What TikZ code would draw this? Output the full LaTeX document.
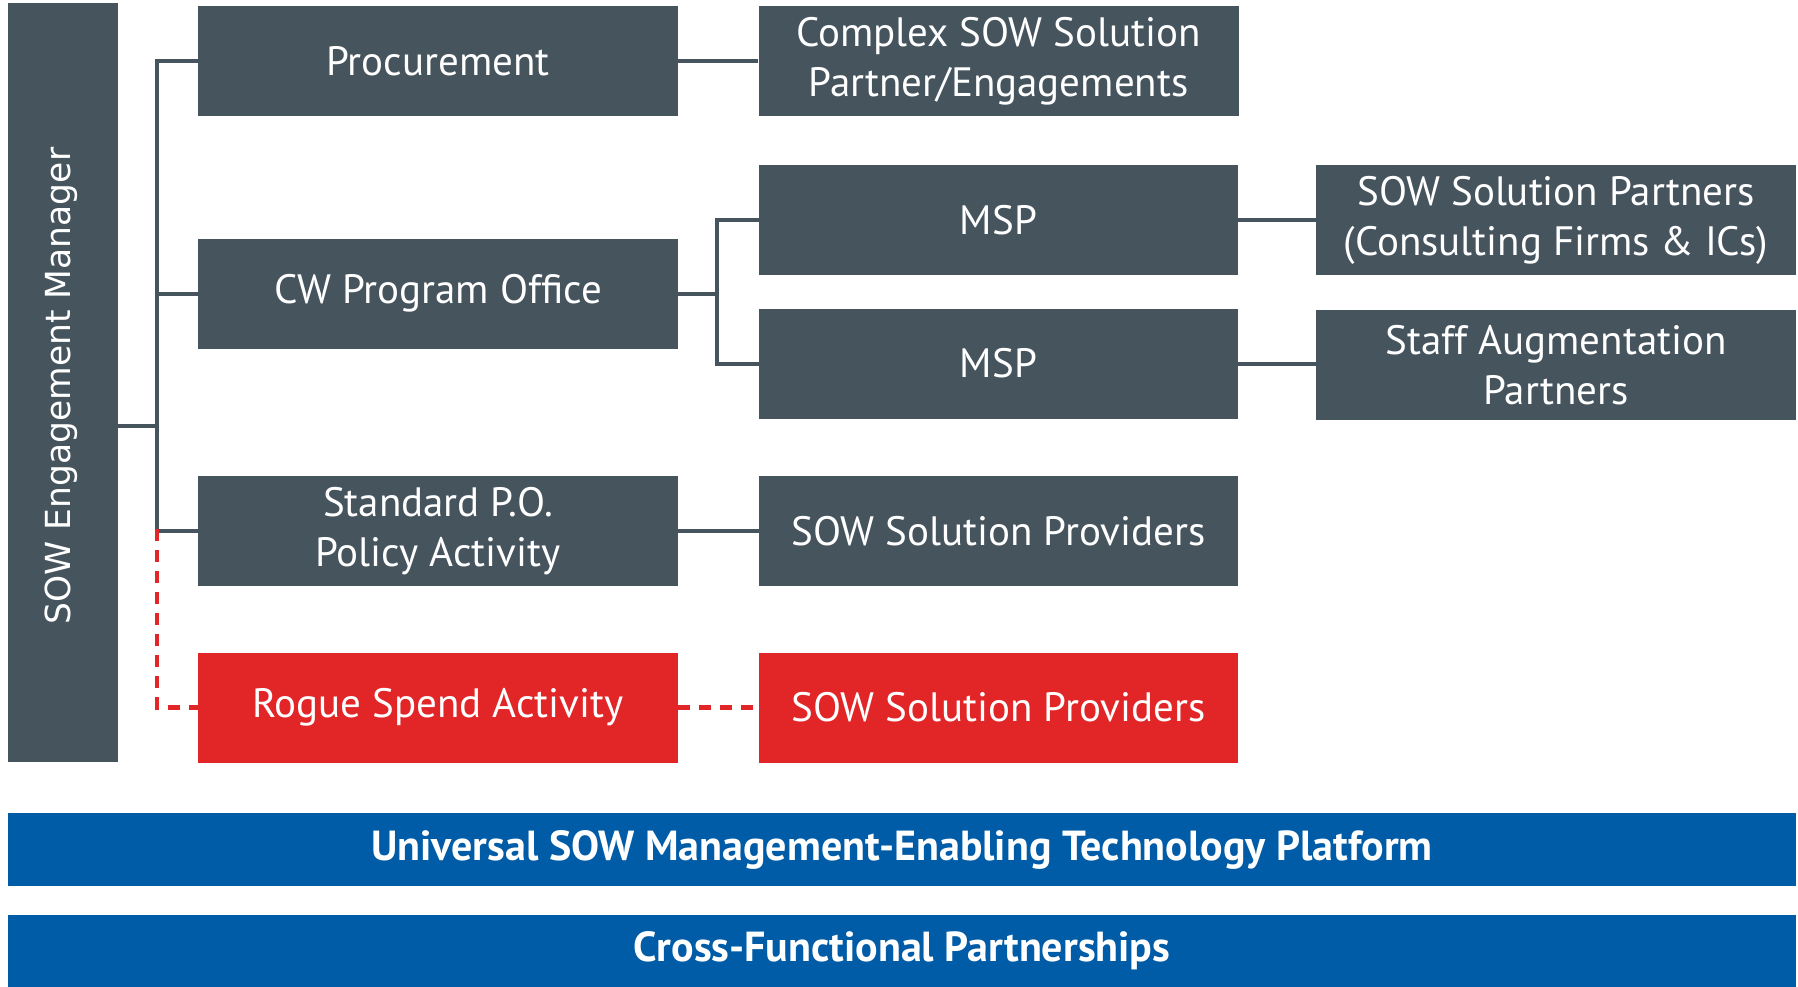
\documentclass[tikz,border=0pt]{standalone}
\usepackage{fontspec}
\setmainfont{PT Sans}
\newfontfamily\mgrfont{DejaVu Sans}
\usetikzlibrary{positioning,calc}

\definecolor{slate}{HTML}{46545E}
\definecolor{alert}{HTML}{E22526}
\definecolor{brand}{HTML}{005CA6}

\tikzset{
  box/.style={fill=slate, text=white, inner sep=0pt, align=center,
    minimum width=480pt, minimum height=110pt,
    font=\fontsize{41}{50}\selectfont},
  redbox/.style={box, fill=alert},
  bar/.style={fill=brand, text=white, inner sep=0pt, minimum width=1788pt,
    font=\fontsize{42}{50}\selectfont\bfseries},
  conn/.style={draw=slate, line width=4pt},
  dashconn/.style={draw=alert, line width=4.5pt, dash pattern=on 12pt off 9pt}
}

\begin{document}
\begin{tikzpicture}[x=1pt, y=-1pt]
\useasboundingbox (0,0) rectangle (1798,987);

% vertical manager column
\node[fill=slate, inner sep=0pt, minimum width=110pt, minimum height=759pt]
  (mgr) at (63,382.5) {};
\node[rotate=90, text=white, font=\mgrfont\fontsize{34.5}{42}\selectfont]
  (mgrlabel) at (61,386) {SOW Engagement Manager};

% first column
\node[box] (proc)  at (438,61)    {Procurement};
\node[box] (cw)    at (438,293.5) {CW Program Office};
\node[box] (stdpo) at (438,531)   {Standard P.O.\\Policy Activity};
\node[redbox] (rogue) at (438,707.5) {Rogue Spend Activity};

% second column
\node[box] (complex) at (998.5,61)    {Complex SOW Solution\\Partner/Engagements};
\node[box, minimum width=479pt] (msp1) at (998.5,220)   {MSP};
\node[box, minimum width=479pt] (msp2) at (998.5,363.5) {MSP};
\node[box, minimum width=479pt] (prov) at (998.5,531)   {SOW Solution Providers};
\node[redbox, minimum width=479pt] (rprov) at (998.5,707.5) {SOW Solution Providers};

% third column
\node[box] (partners) at (1556,220) {SOW Solution Partners\\(Consulting Firms \& ICs)};
\node[box] (staff)    at (1556,365) {Staff Augmentation\\Partners};

% foundation bars
\node[bar, minimum height=73pt] (platform) at (902,849.5)
  {Universal SOW Management-Enabling Technology Platform};
\node[bar, minimum height=72pt] (cross) at (902,951)
  {Cross-Functional Partnerships};

% junction points
\coordinate (trunk) at (157,426);
\coordinate (split) at (717,293.5);

% connectors
\draw[conn] (proc.west) -| (trunk |- stdpo.west) -- (stdpo.west);
\draw[conn] (cw.west) -- (trunk |- cw.west);
\draw[conn] (mgr.east |- trunk) -- (trunk);
\draw[conn] (proc.east) -- (complex.west);
\draw[conn] (cw.east) -- (split);
\draw[conn] (msp1.west) -| (split) |- (msp2.west);
\draw[conn] (msp1.east) -- (partners.west |- msp1.east);
\draw[conn] (msp2.east) -- (staff.west |- msp2.east);
\draw[conn] (stdpo.east) -- (prov.west);
\draw[dashconn] ([yshift=2pt]trunk |- stdpo.west) |- (rogue.west);
\draw[dashconn] (rogue.east) -- (rprov.west);
\end{tikzpicture}
\end{document}
